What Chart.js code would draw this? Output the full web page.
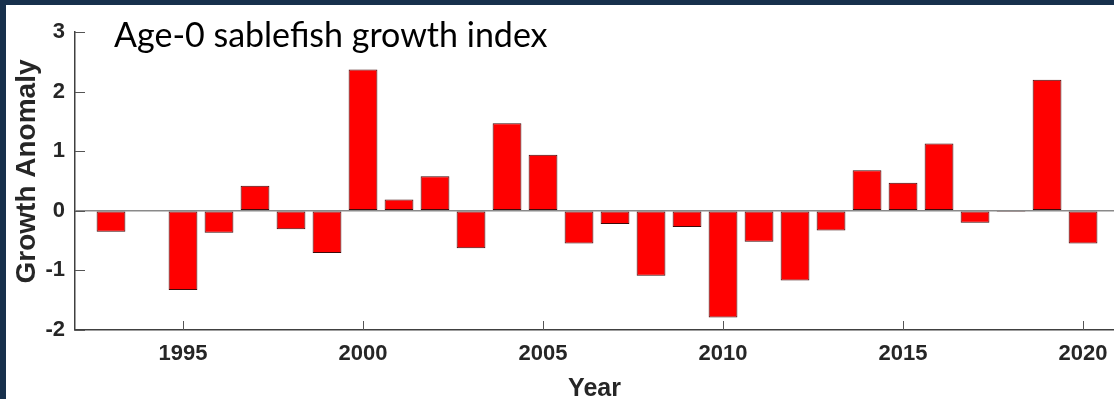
<!DOCTYPE html>
<html lang="en">
<head>
    <meta charset="UTF-8">
    <title>Age-0 sablefish growth index</title>
    <script src="https://cdn.jsdelivr.net/npm/chart.js"></script>
    <style>
        html, body { margin: 0; padding: 0; overflow: hidden; background: #17304c; }
        #frame { position: absolute; left: 6px; top: 5px; width: 1108px; height: 394px; background: #fff; }
    </style>
</head>
<body>
    <div id="frame"><canvas id="growthChart"></canvas></div>

    <script>
        // Data (1994 has no value)
        const years = [1993, 1994, 1995, 1996, 1997, 1998, 1999, 2000, 2001, 2002,
                       2003, 2004, 2005, 2006, 2007, 2008, 2009, 2010, 2011, 2012,
                       2013, 2014, 2015, 2016, 2017, 2018, 2019, 2020];
        const growthAnomaly = [-0.35, null, -1.33, -0.37, 0.42, -0.31, -0.71, 2.37, 0.19, 0.58,
                               -0.63, 1.47, 0.94, -0.55, -0.22, -1.09, -0.27, -1.79, -0.52, -1.17,
                               -0.33, 0.68, 0.47, 1.13, -0.20, -0.02, 2.20, -0.55];
        const xTickYears = [1995, 2000, 2005, 2010, 2015, 2020];
        const yTickValues = [-2, -1, 0, 1, 2, 3];

        const chartTitle = 'Age-0 sablefish growth index';
        const xAxisTitle = 'Year';
        const yAxisTitle = 'Growth Anomaly';

        const axisFont = '"Liberation Sans", Arial, sans-serif';

        const points = years
            .map((yr, i) => ({ x: yr, y: growthAnomaly[i] }))
            .filter(p => p.y !== null);

        // MATLAB-style ticks pointing into the plot
        const inwardTicks = {
            id: 'inwardTicks',
            afterDatasetsDraw(chart) {
                const { ctx, chartArea, scales: { x, y } } = chart;
                ctx.save();
                ctx.strokeStyle = '#555';
                ctx.lineWidth = 1;
                ctx.beginPath();
                y.ticks.forEach(t => {
                    const py = Math.round(y.getPixelForValue(t.value)) + 0.5;
                    ctx.moveTo(chartArea.left, py);
                    ctx.lineTo(chartArea.left + 10, py);
                });
                x.ticks.forEach(t => {
                    const px = Math.round(x.getPixelForValue(t.value)) + 0.5;
                    ctx.moveTo(px, chartArea.bottom);
                    ctx.lineTo(px, chartArea.bottom - 9);
                });
                ctx.stroke();
                ctx.restore();
            }
        };

        // Title inside the axes + rotated y label
        const labels = {
            id: 'labels',
            afterDraw(chart) {
                const ctx = chart.ctx;
                ctx.save();
                ctx.fillStyle = '#000';
                ctx.font = '34px Lato, "Open Sans", sans-serif';
                ctx.textAlign = 'left';
                ctx.textBaseline = 'alphabetic';
                ctx.fillText(chartTitle, 108, 42);

                ctx.translate(21.5, 166.5);
                ctx.rotate(-Math.PI / 2);
                ctx.fillStyle = '#262626';
                ctx.font = 'bold 28px ' + axisFont;
                ctx.textAlign = 'center';
                ctx.textBaseline = 'middle';
                ctx.fillText(yAxisTitle, 0, 0);
                ctx.restore();
            }
        };

        new Chart(document.getElementById('growthChart'), {
            type: 'bar',
            data: {
                datasets: [{
                    data: points,
                    backgroundColor: '#ff0000',
                    borderColor: '#3d0a0a',
                    borderWidth: 1,
                    borderSkipped: false,
                    barPercentage: 0.8,
                    categoryPercentage: 1.0
                }]
            },
            options: {
                responsive: true,
                maintainAspectRatio: false,
                animation: false,
                layout: { padding: { top: 27, left: 0, right: 0, bottom: 0 } },
                plugins: {
                    legend: { display: false },
                    tooltip: { enabled: false }
                },
                scales: {
                    x: {
                        type: 'linear',
                        offset: false,
                        min: 1992,
                        max: 2020.86,
                        afterBuildTicks: s => { s.ticks = xTickYears.map(v => ({ value: v })); },
                        afterFit: s => { s.height = 69; },
                        grid: { display: false, drawTicks: false, offset: false },
                        border: { display: true, color: '#404040', width: 1.5 },
                        ticks: {
                            padding: 0,
                            color: '#262626',
                            font: { family: axisFont, size: 22, weight: 'bold', lineHeight: 2.18 },
                            callback: v => String(v),
                            maxRotation: 0
                        },
                        title: {
                            display: true,
                            text: xAxisTitle,
                            color: '#262626',
                            font: { family: axisFont, size: 25, weight: 'bold', lineHeight: 1 },
                            padding: { top: 0, bottom: -3 }
                        }
                    },
                    y: {
                        min: -2,
                        max: 3,
                        afterBuildTicks: s => { s.ticks = yTickValues.map(v => ({ value: v })); },
                        afterFit: s => { s.width = 69; },
                        grid: {
                            drawTicks: false,
                            color: c => (c.tick && c.tick.value === 0) ? '#8a8a8a' : 'rgba(0,0,0,0)',
                            lineWidth: 1.5
                        },
                        border: { display: true, color: '#404040', width: 1.5 },
                        ticks: {
                            padding: 10,
                            color: '#262626',
                            font: { family: axisFont, size: 22, weight: 'bold' }
                        }
                    }
                }
            },
            plugins: [inwardTicks, labels]
        });
    </script>
</body>
</html>
